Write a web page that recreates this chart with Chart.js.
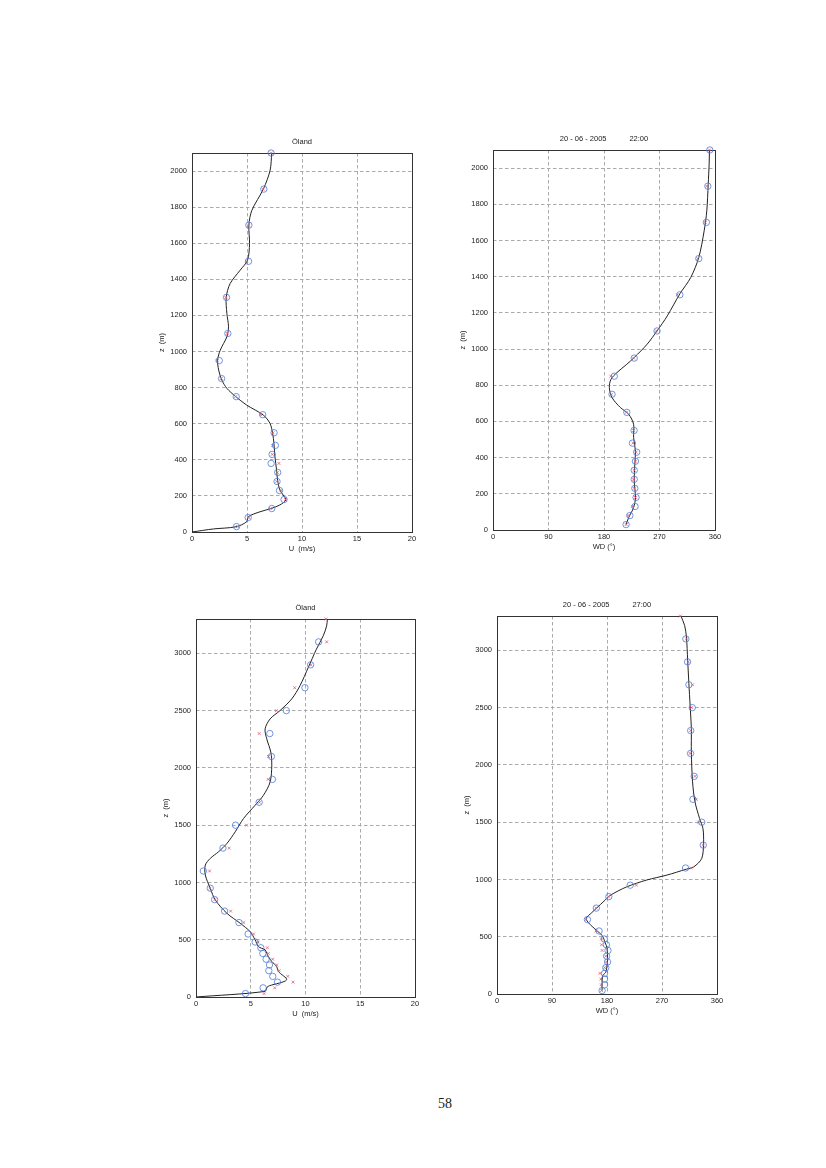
<!DOCTYPE html>
<html>
<head>
<meta charset="utf-8">
<script src="https://cdn.jsdelivr.net/npm/chart.js@4.4.1/dist/chart.umd.min.js"></script>
<style>
  html, body { margin: 0; padding: 0; background: #fff; }
  body { width: 826px; height: 1168px; position: relative; overflow: hidden; }
  canvas { position: absolute; }
  #page-num { position: absolute; left: 425px; top: 1096px; width: 40px; text-align: center;
    font-family: "Liberation Serif", "Times New Roman", serif; font-size: 14px; color: #222; }
</style>
</head>
<body>
<canvas id="p1"></canvas>
<canvas id="p2"></canvas>
<canvas id="p3"></canvas>
<canvas id="p4"></canvas>
<div id="page-num">58</div>
<script>
// tick labels
const ticksU = [0, 5, 10, 15, 20];
const ticksWD = [0, 90, 180, 270, 360];
const ticksZ1 = [0, 200, 400, 600, 800, 1000, 1200, 1400, 1600, 1800, 2000];
const ticksZ2 = [0, 500, 1000, 1500, 2000, 2500, 3000];

// 22:00 profile - measured heights (m)
const z1 = [30, 80, 130, 180, 230, 280, 330, 380, 430, 480, 550, 650, 750, 850, 950, 1100, 1300, 1500, 1700, 1900, 2100];
const u1Circ = [4.05, 5.11, 7.25, 8.37, 7.95, 7.73, 7.79, 7.19, 7.28, 7.58, 7.46, 6.43, 4.02, 2.69, 2.48, 3.26, 3.14, 5.14, 5.17, 6.53, 7.19];
const u1Cross = [4.14, 5.17, 7.16, 8.5, 8.1, 7.7, 7.75, 7.9, 7.3, 7.34, 7.37, 6.25, 3.96, 2.66, 2.27, 3.2, 3.08, 4.95, 5.15, 6.47, 7.2];
const wd1Circ = [215.8, 222, 230.4, 232, 230, 229, 229, 231, 233, 226, 228.8, 217, 193, 196.7, 229, 266, 303, 333.7, 346, 348.4, 351.6];
const wd1Cross = [216, 219, 226, 231, 229, 228, 229, 231, 232, 227, 228, 216, 192, 191, 228, 265, 299, 332, 344, 347, 351];
// fitted curves 22:00
const u1FitZ = [0, 17, 29, 57, 85, 112, 131, 150, 177, 205, 232, 288, 343, 417, 491, 546, 602, 648, 703, 753, 796, 842, 898, 953, 1008, 1082, 1137, 1211, 1300, 1377, 1451, 1506, 1598, 1701, 1782, 1902, 2004, 2100];
const u1Fit = [0, 1.96, 4.0, 4.98, 5.12, 6.18, 7.24, 7.99, 8.53, 8.29, 7.99, 7.78, 7.69, 7.54, 7.45, 7.33, 7.09, 6.48, 4.98, 3.92, 3.17, 2.71, 2.42, 2.33, 2.57, 3.17, 3.32, 3.17, 3.11, 3.47, 4.38, 5.05, 5.23, 5.17, 5.44, 6.5, 7.1, 7.25];
const wd1FitZ = [31, 68, 124, 179, 271, 363, 437, 511, 584, 640, 677, 732, 787, 833, 870, 916, 953, 1027, 1100, 1183, 1305, 1395, 1506, 1653, 1764, 1911, 2022, 2100];
const wd1Fit = [215.8, 220, 228, 231, 229, 230, 231, 228, 228, 220, 206.5, 193, 188.6, 191.3, 201, 217, 229, 250, 266, 282.6, 303, 320.6, 333.7, 342.4, 346.7, 349, 350.5, 351];

// 27:00 profile
const z2 = [30, 80, 130, 180, 230, 280, 330, 380, 430, 480, 550, 650, 750, 850, 950, 1100, 1300, 1500, 1700, 1900, 2100, 2300, 2500, 2700, 2900, 3100];
const z2Cross = [30, 80, 130, 180, 230, 280, 330, 380, 430, 480, 550, 650, 750, 850, 950, 1100, 1300, 1500, 1700, 1900, 2100, 2300, 2500, 2700, 2900, 3100, 3300];
const u2Circ = [4.52, 6.13, 7.44, 7.01, 6.65, 6.71, 6.40, 6.1, 5.92, 5.40, 4.76, 3.92, 2.61, 1.70, 1.30, 0.67, 2.46, 3.61, 5.77, 6.98, 6.89, 6.74, 8.25, 9.95, 10.47, 11.2];
const u2Cross = [6.22, 7.19, 8.86, 8.38, 7.59, 7.37, 7.0, 6.6, 6.52, 5.68, 5.25, 4.37, 3.16, 1.73, 1.27, 1.24, 3.03, 4.61, 5.8, 6.59, 6.62, 5.77, 7.34, 9.01, 10.5, 11.93, 11.87];
const wd2Circ = [172, 176, 176, 176, 178, 181, 179.4, 181.6, 179, 175.6, 167, 148, 162.5, 183, 218, 308.5, 337.5, 335, 320.6, 322.7, 316.7, 317, 319.5, 314, 311.8, 309];
const wd2Cross = [171, 170.7, 170, 168.5, 176, 179, 178, 172, 171, 171, 162, 145.5, 162, 182, 228, 318, 337.5, 330, 326, 324, 316, 317, 318, 320, 313, 310, 300];
// fitted curves 27:00
const u2FitZ = [0, 49, 87, 98, 150, 223, 266, 310, 353, 383, 412, 440, 499, 571, 644, 731, 847, 949, 1065, 1152, 1210, 1268, 1340, 1442, 1558, 1674, 1761, 1877, 2022, 2138, 2254, 2341, 2428, 2501, 2602, 2718, 2878, 3037, 3153, 3240, 3300];
const u2Fit = [0, 6.3, 6.5, 6.7, 8.28, 7.52, 7.37, 6.92, 6.61, 6.46, 6.31, 5.7, 5.4, 4.94, 4.03, 2.82, 1.76, 1.30, 0.85, 0.85, 1.3, 2.06, 2.82, 3.58, 4.34, 5.4, 6.16, 6.77, 6.92, 6.83, 6.46, 6.31, 6.77, 7.68, 8.74, 9.5, 10.26, 11.0, 11.62, 11.93, 12.0];
const wd2FitZ = [30, 100, 160, 190, 250, 300, 400, 450, 510, 560, 620, 660, 710, 750, 810, 860, 935, 995, 1038, 1090, 1110, 1183, 1314, 1445, 1532, 1677, 1852, 2113, 2317, 2520, 2709, 2913, 3116, 3218, 3300];
const wd2Fit = [172, 172, 173, 178, 180, 181, 180, 177, 172, 162, 150, 146, 155, 163, 175, 185, 212, 245, 278, 310, 322, 335, 338, 337, 331.5, 324, 320, 318, 318, 316, 314, 312, 310, 307, 301];

const FONT = '"Liberation Sans", Arial, sans-serif';

function pts(xs, zs) {
  return xs.map((v, i) => ({ x: v, y: zs[i] }));
}

const framePlugin = {
  id: 'frame',
  beforeDatasetsDraw(chart) {
    const { ctx, chartArea: a } = chart;
    ctx.save();
    ctx.strokeStyle = '#333';
    ctx.lineWidth = 1;
    ctx.strokeRect(Math.round(a.left) + 0.5, Math.round(a.top) + 0.5, Math.round(a.right - a.left), Math.round(a.bottom - a.top));
    ctx.restore();
  }
};

function makePanel(id, box, p) {
  const el = document.getElementById(id);
  // box = chart area in page px; canvas grows 40 left, 20 top, 15 right, 28 bottom
  el.width = box.w + 55;
  el.height = box.h + 48;
  el.style.left = (box.left - 40) + 'px';
  el.style.top = (box.top - 20) + 'px';

  return new Chart(el, {
    type: 'scatter',
    data: {
      datasets: [{
        data: pts(p.circ, p.z),
        pointStyle: 'circle',
        pointRadius: 3.2,
        borderWidth: 0.8,
        borderColor: '#4d7bd6',
        backgroundColor: 'rgba(0,0,0,0)',
        clip: false
      }, {
        data: pts(p.cross, p.zCross),
        pointStyle: 'crossRot',
        pointRadius: 2,
        borderWidth: 0.8,
        borderColor: '#e35a72',
        clip: false
      }, {
        data: pts(p.fit, p.fitZ),
        showLine: true,
        tension: 0.3,
        pointRadius: 0,
        borderWidth: 1,
        borderColor: '#222'
      }]
    },
    options: {
      responsive: false,
      animation: false,
      devicePixelRatio: 1,
      layout: { padding: { left: 0, top: 0, right: 15, bottom: 0 } },
      plugins: {
        legend: { display: false },
        tooltip: { enabled: false },
        title: {
          display: true,
          text: p.title,
          fullSize: false,
          color: '#222',
          font: { family: FONT, size: 7.5, weight: 'normal', lineHeight: '10px' },
          padding: { top: 4, bottom: 6 }
        }
      },
      scales: {
        x: {
          type: 'linear',
          min: p.xTicks[0],
          max: p.xTicks[p.xTicks.length - 1],
          afterBuildTicks: s => { s.ticks = p.xTicks.map(v => ({ value: v })); },
          afterFit: s => { s.height = 28; s.paddingLeft = 0; s.paddingRight = 0; },
          grid: { color: '#aaa', lineWidth: 1, drawTicks: false },
          border: { display: false, dash: [3.5, 2.5] },
          ticks: { padding: 2, color: '#222', maxRotation: 0, autoSkip: false,
            font: { family: FONT, size: 7.5 }, callback: v => String(v) },
          title: {
            display: true, text: p.xTitle, color: '#222',
            font: { family: FONT, size: 7.5, lineHeight: '10px' },
            padding: { top: 0, bottom: 6.5 }
          }
        },
        y: {
          type: 'linear',
          min: 0,
          max: p.zMax,
          afterBuildTicks: s => { s.ticks = p.yTicks.map(v => ({ value: v })); },
          afterFit: s => { s.width = 40; s.paddingTop = 0; s.paddingBottom = 0; },
          grid: { color: '#aaa', lineWidth: 1, drawTicks: false },
          border: { display: false, dash: [3.5, 2.5] },
          ticks: { padding: 5, color: '#222', autoSkip: false,
            font: { family: FONT, size: 7.5 }, callback: v => String(v) },
          title: {
            display: true, text: 'z  (m)', color: '#222',
            font: { family: FONT, size: 7.5, lineHeight: '10px' },
            padding: { top: 5, bottom: 0 }
          }
        }
      }
    },
    plugins: [framePlugin]
  });
}

makePanel('p1', { left: 192, top: 153, w: 220, h: 379 }, {
  title: 'Öland', xTitle: 'U  (m/s)', xTicks: ticksU, yTicks: ticksZ1, zMax: 2100,
  z: z1, circ: u1Circ, zCross: z1, cross: u1Cross, fit: u1Fit, fitZ: u1FitZ
});
makePanel('p2', { left: 493, top: 150, w: 222, h: 380 }, {
  title: '20 - 06 - 2005           22:00', xTitle: 'WD (°)', xTicks: ticksWD, yTicks: ticksZ1, zMax: 2100,
  z: z1, circ: wd1Circ, zCross: z1, cross: wd1Cross, fit: wd1Fit, fitZ: wd1FitZ
});
makePanel('p3', { left: 196, top: 619, w: 219, h: 378 }, {
  title: 'Öland', xTitle: 'U  (m/s)', xTicks: ticksU, yTicks: ticksZ2, zMax: 3300,
  z: z2, circ: u2Circ, zCross: z2Cross, cross: u2Cross, fit: u2Fit, fitZ: u2FitZ
});
makePanel('p4', { left: 497, top: 616, w: 220, h: 378 }, {
  title: '20 - 06 - 2005           27:00', xTitle: 'WD (°)', xTicks: ticksWD, yTicks: ticksZ2, zMax: 3300,
  z: z2, circ: wd2Circ, zCross: z2Cross, cross: wd2Cross, fit: wd2Fit, fitZ: wd2FitZ
});
</script>
</body>
</html>
